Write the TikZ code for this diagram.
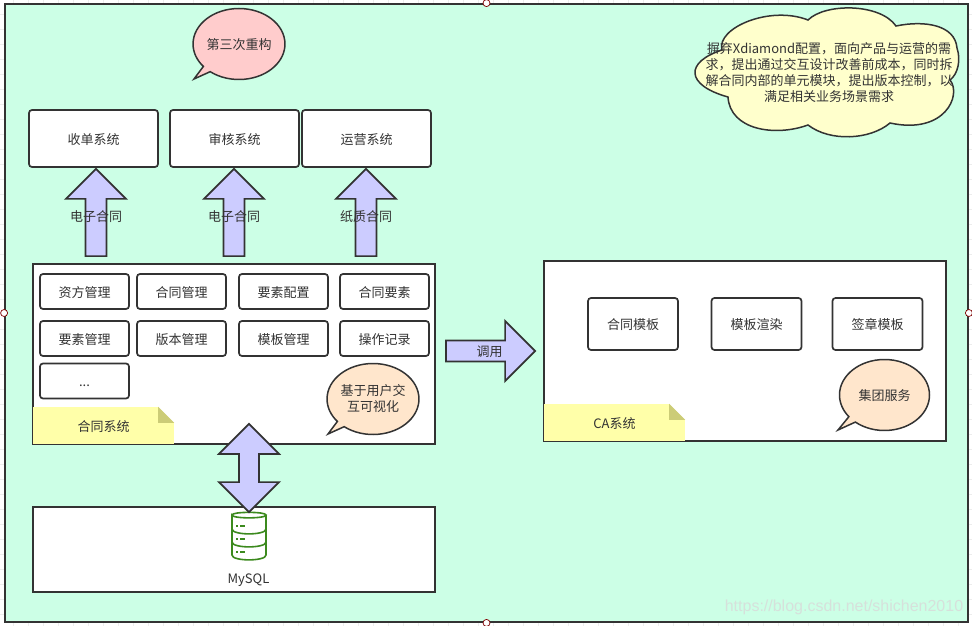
\documentclass[tikz,border=0pt]{standalone}
\usepackage{fontspec}
\setmainfont{Noto Sans CJK SC}
\newfontfamily\markfont{Liberation Sans}
\usepackage{tikz}
\usetikzlibrary{shapes,shapes.callouts,arrows,calc}
\definecolor{linecol}{HTML}{333333}
\definecolor{framefill}{HTML}{CCFFE6}
\definecolor{arrowfill}{HTML}{CCCCFF}
\definecolor{notefill}{HTML}{FFFFA9}
\definecolor{foldfill}{HTML}{CCCC77}
\definecolor{cloudfill}{HTML}{FFFFCC}
\definecolor{peach}{HTML}{FFE6CC}
\definecolor{dbgreen}{HTML}{3C8A1E}
\tikzstyle{txt} = [text=linecol, font=\fontsize{13}{16}\selectfont, align=center, inner sep=0pt]
\tikzstyle{oneline} = [txt, text height=12.5pt, text depth=0.7pt]
\tikzstyle{frame} = [rectangle, draw=linecol, line width=1.8pt, fill=framefill, minimum width=963pt, minimum height=618pt]
\tikzstyle{panel} = [rectangle, draw=linecol, line width=1.8pt, fill=white, minimum width=402pt]
\tikzstyle{system} = [oneline, rectangle, draw=linecol, line width=1.7pt, fill=white, rounded corners=3pt, minimum width=129pt, minimum height=57pt]
\tikzstyle{cell} = [oneline, rectangle, draw=linecol, line width=1.7pt, fill=white, rounded corners=3pt, minimum width=89pt, minimum height=35pt]
\tikzstyle{tmpl} = [cell, minimum width=90pt, minimum height=52pt]
\tikzstyle{note} = [oneline, rectangle, fill=notefill, minimum width=141pt, minimum height=37pt]
\tikzstyle{bubble} = [txt, ellipse callout, draw=linecol, line width=1.5pt, callout pointer arc=12, minimum width=90pt, minimum height=71pt]
\tikzstyle{handle} = [circle, draw=red!50!black, fill=white, line width=0.7pt, minimum size=7pt, inner sep=0pt]
\tikzstyle{blockline} = [draw=linecol, fill=arrowfill, line width=1.7pt, line join=miter, to path={
	-- ($(\tikztostart)!10.5pt!90:(\tikztotarget)$)
	-- ($(\tikztotarget)!30pt!(\tikztostart)!10.5pt!90:(\tikztotarget)$)
	-- ($(\tikztotarget)!30pt!(\tikztostart)!30pt!90:(\tikztotarget)$)
	-- (\tikztotarget)
	-- ($(\tikztotarget)!30pt!(\tikztostart)!30pt!-90:(\tikztotarget)$)
	-- ($(\tikztotarget)!30pt!(\tikztostart)!10.5pt!-90:(\tikztotarget)$)
	-- ($(\tikztostart)!10.5pt!-90:(\tikztotarget)$)
	-- cycle}]
\tikzstyle{bothline} = [draw=linecol, fill=arrowfill, line width=1.7pt, line join=miter, to path={
	-- ($(\tikztostart)!30pt!(\tikztotarget)!30pt!90:(\tikztotarget)$)
	-- ($(\tikztostart)!30pt!(\tikztotarget)!10pt!90:(\tikztotarget)$)
	-- ($(\tikztotarget)!30pt!(\tikztostart)!10pt!90:(\tikztotarget)$)
	-- ($(\tikztotarget)!30pt!(\tikztostart)!30pt!90:(\tikztotarget)$)
	-- (\tikztotarget)
	-- ($(\tikztotarget)!30pt!(\tikztostart)!30pt!-90:(\tikztotarget)$)
	-- ($(\tikztotarget)!30pt!(\tikztostart)!10pt!-90:(\tikztotarget)$)
	-- ($(\tikztostart)!30pt!(\tikztotarget)!10pt!-90:(\tikztotarget)$)
	-- ($(\tikztostart)!30pt!(\tikztotarget)!30pt!-90:(\tikztotarget)$)
	-- cycle}]
\tikzstyle{dbline} = [draw=dbgreen, line width=1.6pt]
\begin{document}
\begin{tikzpicture}[x=1pt, y=-1pt]
			\useasboundingbox (0,0) rectangle (972,626);
			\draw [black!7, line width=0.5pt, xshift=-2pt, yshift=1pt, step=15pt] (0,0) grid (990,640);
			\node [frame] (frame) at (486.5,313) {};
			\node [handle] (handlen) at (frame.north) {};
			\node [handle] (handlew) at (frame.west) {};
			\node [handle] (handlee) at (frame.east) {};
			\node [handle] (handles) at (frame.south) {};
			\node [bubble, fill=red!20, callout absolute pointer={(194,79)}, text height=12.5pt, text depth=0.7pt] (redo) at (239,44) {第三次重构};
			\draw [draw=linecol, line width=1.5pt, fill=cloudfill] (722,50) .. controls (716,28) and (770,5) .. (808,20) .. controls (825,3) and (880,3) .. (896,26) .. controls (925,20) and (955,25) .. (957,48) .. controls (961,60) and (958,74) .. (950,80) .. controls (962,95) and (945,135) .. (890,123) .. controls (870,140) and (830,142) .. (808,125) .. controls (775,137) and (730,130) .. (728,97) .. controls (685,85) and (685,62) .. (722,50) -- cycle;
			\node [txt] (cloudtxt) at (829,73) {摒弃Xdiamond配置，面向产品与运营的需\\求，提出通过交互设计改善前成本，同时拆\\解合同内部的单元模块，提出版本控制，以\\满足相关业务场景需求};
			\node [system] (recv) at (93.5,138.5) {收单系统};
			\node [system, right of=recv, node distance=141pt] (audit) {审核系统};
			\node [system, right of=audit, node distance=132pt] (ops) {运营系统};
			\node [panel, minimum height=180pt] (contract) at (234,354) {};
			\node [cell] (fund) at (84.5,291.5) {资方管理};
			\node [cell, right of=fund, node distance=97pt] (manage) {合同管理};
			\node [cell, right of=manage, node distance=102pt] (config) {要素配置};
			\node [cell, right of=config, node distance=101pt] (element) {合同要素};
			\node [cell, below of=fund, node distance=47pt] (elemgr) {要素管理};
			\node [cell, right of=elemgr, node distance=97pt] (version) {版本管理};
			\node [cell, right of=version, node distance=102pt] (tplmgr) {模板管理};
			\node [cell, right of=tplmgr, node distance=101pt] (oplog) {操作记录};
			\node [cell, below of=elemgr, node distance=42.5pt] (more) {...};
			\node [note] (contractnote) at (103.5,425.5) {合同系统};
			\fill [white] (contractnote.north east) -- ++(-16,0) -- ++(16,16) -- cycle;
			\fill [foldfill] ([xshift=-16pt]contractnote.north east) -- ++(16,16) -- ++(-16,0) -- cycle;
			\node [bubble, fill=peach, callout absolute pointer={(328,434)}] (visual) at (373,399) {基于用户交\\互可视化};
			\node [panel, minimum height=180pt] (ca) at (745,351) {};
			\node [tmpl] (tpl) at (633,324) {合同模板};
			\node [tmpl, right of=tpl, node distance=123.5pt] (render) {模板渲染};
			\node [tmpl, right of=render, node distance=121pt] (sign) {签章模板};
			\node [note] (canote) at (614.5,422.5) {CA系统};
			\fill [white] (canote.north east) -- ++(-16,0) -- ++(16,16) -- cycle;
			\fill [foldfill] ([xshift=-16pt]canote.north east) -- ++(16,16) -- ++(-16,0) -- cycle;
			\node [bubble, fill=peach, callout absolute pointer={(838,430)}, text height=12.5pt, text depth=0.7pt] (group) at (884.5,395) {集团服务};
			\node [panel, minimum height=85pt] (db) at (234,549.5) {};
			\draw [dbline] (232,515) .. controls (232,511.5) and (266,511.5) .. (266,515) .. controls (266,518.8) and (232,518.8) .. (232,515) -- (232,555) .. controls (232,561.5) and (266,561.5) .. (266,555) -- (266,515);
			\draw [dbline] (232,529) .. controls (232,535.5) and (266,535.5) .. (266,529);
			\draw [dbline] (232,542) .. controls (232,548.5) and (266,548.5) .. (266,542);
			\draw [dbline] (236,525.7) -- (238,525.7) (240,525.7) -- (245,525.7);
			\draw [dbline] (236,539) -- (238,539) (240,539) -- (245,539);
			\draw [dbline] (236,552) -- (238,552) (240,552) -- (245,552);
			\node [oneline] (mysql) at (248.5,578) {MySQL};
			\path [blockline] ([xshift=-138pt,yshift=7pt]contract.north) to ([xshift=2.5pt,yshift=-1pt]recv.south);
			\path [blockline] ([yshift=7pt]contract.north) to ([xshift=-0.5pt,yshift=-1pt]audit.south);
			\path [blockline] ([xshift=132pt,yshift=7pt]contract.north) to ([xshift=-0.5pt,yshift=-1pt]ops.south);
			\path [blockline] ([xshift=10pt,yshift=3pt]contract.east) to ([xshift=-8pt]ca.west);
			\path [bothline] ([xshift=15pt,yshift=-6pt]db.north) to ([xshift=15pt,yshift=21pt]contract.south);
			\node [oneline] (lineone) at (96,216) {电子合同};
			\node [oneline] (linetwo) at (234,216) {电子合同};
			\node [oneline] (linethree) at (366,216) {纸质合同};
			\node [oneline] (invoke) at (489.5,351) {调用};
			\node [inner sep=0pt, text=white!85!black, opacity=0.8, font=\fontsize{16}{18}\markfont] (mark) at (844,607) {https://blog.csdn.net/shichen2010};
		\end{tikzpicture}
\end{document}
